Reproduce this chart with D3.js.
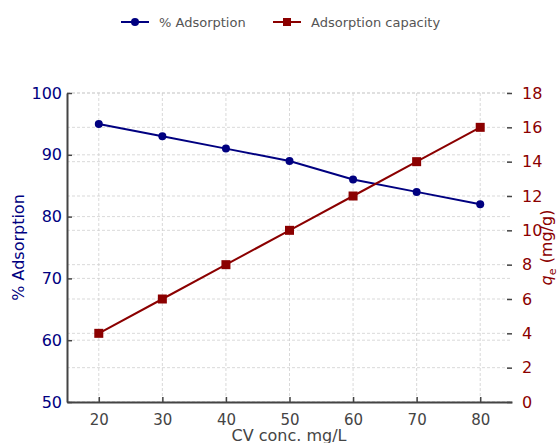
<!DOCTYPE html>
<html>
<head>
<meta charset="utf-8">
<script src="https://cdn.jsdelivr.net/npm/d3@7/dist/d3.min.js"></script>
<style>
  html, body { margin: 0; padding: 0; background: #fff; }
  svg { display: block; }
  svg text { font-family: "DejaVu Sans", sans-serif; }
</style>
</head>
<body>
<svg id="chart" width="557" height="443"></svg>
<script>
// CV concentration (mg/L)
const concentrations = [20, 30, 40, 50, 60, 70, 80];
// Removal efficiency (%)
const adsorptionPct = [95, 93, 91, 89, 86, 84, 82];
// Equilibrium adsorption capacity q_e (mg/g)
const capacity = [4, 6, 8, 10, 12, 14, 16];

const xTicks = [20, 30, 40, 50, 60, 70, 80];
const leftTicks = [50, 60, 70, 80, 90, 100];
const rightTicks = [0, 2, 4, 6, 8, 10, 12, 14, 16, 18];

const blue = "#000080", red = "#8b0000", spine = "#444", textGray = "#444";

const svg = d3.select("#chart");
const m = { left: 67, right: 512, top: 93, bottom: 402 };

const x = d3.scaleLinear().domain([15, 85]).range([m.left, m.right]);
const yL = d3.scaleLinear().domain([50, 100]).range([m.bottom, m.top]);
const yR = d3.scaleLinear().domain([0, 18]).range([m.bottom, m.top]);

// grid
const grid = svg.append("g").attr("stroke", "#cfcfcf").attr("stroke-width", 0.8)
  .attr("stroke-dasharray", "3,2").attr("fill", "none");
xTicks.forEach(v => grid.append("line").attr("x1", x(v)).attr("x2", x(v)).attr("y1", m.top).attr("y2", m.bottom));
leftTicks.forEach(v => grid.append("line").attr("x1", m.left).attr("x2", m.right).attr("y1", yL(v)).attr("y2", yL(v)));
rightTicks.forEach(v => grid.append("line").attr("x1", m.left).attr("x2", m.right).attr("y1", yR(v)).attr("y2", yR(v)));

// axes (ticks pointing inward)
const xAxis = svg.append("g").attr("transform", `translate(0,${m.bottom})`)
  .call(d3.axisBottom(x).tickValues(xTicks).tickSizeInner(-5).tickSizeOuter(0).tickPadding(12));
xAxis.selectAll("text").attr("fill", textGray).style("font-size", "15px");

const lAxis = svg.append("g").attr("transform", `translate(${m.left},0)`)
  .call(d3.axisLeft(yL).tickValues(leftTicks).tickSizeInner(-5).tickSizeOuter(0).tickPadding(5));
lAxis.selectAll("text").attr("fill", blue).style("font-size", "16px");

const rAxis = svg.append("g").attr("transform", `translate(${m.right},0)`)
  .call(d3.axisRight(yR).tickValues(rightTicks).tickSizeInner(-5).tickSizeOuter(0).tickPadding(10));
rAxis.select(".domain").remove();
rAxis.selectAll("text").attr("fill", red).style("font-size", "16px");

[xAxis, lAxis, rAxis].forEach(a => {
  a.attr("font-family", null);
  a.selectAll(".domain").attr("stroke", spine).attr("stroke-width", 2);
  a.selectAll(".tick line").attr("stroke", spine).attr("stroke-width", 1.5);
});

// series
const pts = concentrations.map((c, i) => ({ c, p: adsorptionPct[i], q: capacity[i] }));

svg.append("path").datum(pts).attr("fill", "none").attr("stroke", blue).attr("stroke-width", 2)
  .attr("d", d3.line().x(d => x(d.c)).y(d => yL(d.p)));
svg.append("g").selectAll("circle").data(pts).join("circle")
  .attr("cx", d => x(d.c)).attr("cy", d => yL(d.p)).attr("r", 4).attr("fill", blue);

svg.append("path").datum(pts).attr("fill", "none").attr("stroke", red).attr("stroke-width", 2)
  .attr("d", d3.line().x(d => x(d.c)).y(d => yR(d.q)));
svg.append("g").selectAll("rect").data(pts).join("rect")
  .attr("x", d => x(d.c) - 4.5).attr("y", d => yR(d.q) - 4.5).attr("width", 9).attr("height", 9).attr("fill", red);

// axis titles
svg.append("text").attr("x", (m.left + m.right) / 2 - 0.5).attr("y", 441).attr("text-anchor", "middle")
  .attr("fill", textGray).style("font-size", "16px").text("CV conc. mg/L");
svg.append("text").attr("transform", `translate(24,${(m.top + m.bottom) / 2}) rotate(-90)`)
  .attr("text-anchor", "middle").attr("fill", blue).style("font-size", "16px").text("% Adsorption");
const rt = svg.append("text").attr("transform", `translate(552,${(m.top + m.bottom) / 2}) rotate(-90)`)
  .attr("text-anchor", "middle").attr("fill", red).style("font-size", "16px");
rt.append("tspan").attr("font-style", "italic").text("q");
rt.append("tspan").attr("dy", 4).style("font-size", "11px").text("e");
rt.append("tspan").attr("dy", -4).text(" (mg/g)");

// legend
const leg = svg.append("g").style("font-size", "13px");
const items = [
  { label: "% Adsorption", color: blue, shape: "circle", x: 121 },
  { label: "Adsorption capacity", color: red, shape: "square", x: 273 }
];
items.forEach(it => {
  const g = leg.append("g").attr("transform", `translate(${it.x},22)`);
  g.append("line").attr("x1", 0).attr("x2", 28).attr("stroke", it.color).attr("stroke-width", 2);
  if (it.shape === "circle") g.append("circle").attr("cx", 14).attr("r", 4).attr("fill", it.color);
  else g.append("rect").attr("x", 10).attr("y", -4).attr("width", 8).attr("height", 8).attr("fill", it.color);
  g.append("text").attr("x", 38).attr("y", 5).attr("fill", "#555").text(it.label);
});
</script>
</body>
</html>
